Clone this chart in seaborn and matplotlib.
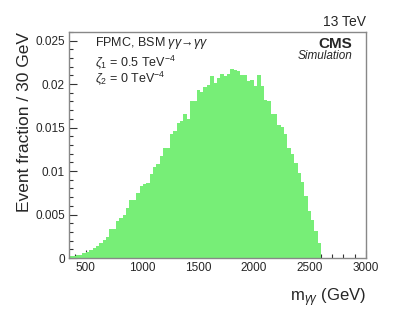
import matplotlib
matplotlib.use("Agg")
import matplotlib.pyplot as plt
import seaborn as sns
import numpy as np
import pandas as pd
from matplotlib.ticker import MultipleLocator

# 30 GeV bins from 350 to 2600 GeV
bin_low = 350
bin_width = 30
fractions = [
    0.00023, 0.00023, 0.0003, 0.0004, 0.00054, 0.00073, 0.00092, 0.00115, 0.0014, 0.0017,
    0.0021, 0.0024, 0.0033, 0.0033, 0.0043, 0.0046, 0.0049, 0.0057, 0.0067, 0.0067,
    0.0075, 0.0083, 0.0085, 0.0086, 0.0097, 0.0105, 0.0108, 0.0117, 0.0126, 0.0127,
    0.0143, 0.0146, 0.0155, 0.0158, 0.0165, 0.016, 0.018, 0.018, 0.0193, 0.0191,
    0.0197, 0.0199, 0.0209, 0.0201, 0.0207, 0.0212, 0.0209, 0.0212, 0.0217, 0.0216,
    0.0215, 0.021, 0.021, 0.0204, 0.0205, 0.0198, 0.021, 0.0198, 0.0182, 0.0181,
    0.0166, 0.0166, 0.0153, 0.0151, 0.0143, 0.0126, 0.0119, 0.0109, 0.0098, 0.0087,
    0.0071, 0.0054, 0.0044, 0.0031, 0.0017,
]
edges = bin_low + bin_width * np.arange(len(fractions) + 1)
df = pd.DataFrame({"mgg": edges[:-1] + bin_width / 2, "frac": fractions})

sns.set_style("white")
plt.rcParams["font.family"] = ["Liberation Sans", "DejaVu Sans"]
plt.rcParams["mathtext.fontset"] = "custom"
plt.rcParams["mathtext.rm"] = "Liberation Sans"
plt.rcParams["mathtext.it"] = "Liberation Sans:italic"

fig = plt.figure(figsize=(4.07, 3.12), dpi=100)
ax = fig.add_axes([0.1695, 0.173, 0.7295, 0.725])

sns.histplot(data=df, x="mgg", weights="frac", bins=edges.tolist(), element="step", fill=True,
             color="#77ee77", alpha=1, linewidth=0, ax=ax)

ax.set_xlim(350, 3000)
ax.set_ylim(0, 0.026)
ax.set_yticks([0, 0.005, 0.01, 0.015, 0.02, 0.025])
ax.set_yticklabels(["0", "0.005", "0.01", "0.015", "0.02", "0.025"])
ax.set_xticks([500, 1000, 1500, 2000, 2500, 3000])
ax.xaxis.set_minor_locator(MultipleLocator(100))
ax.yaxis.set_minor_locator(MultipleLocator(0.001))
ax.tick_params(which="both", direction="in", bottom=True, left=True, top=False, right=False,
               labelsize=8.5, color="#333333", pad=3)
ax.tick_params(which="major", length=6, width=0.8)
ax.tick_params(which="minor", length=3, width=0.8)
for s in ax.spines.values():
    s.set_color("#888888")
    s.set_linewidth(1)

ax.set_xlabel(r"m$_{\gamma\gamma}$ (GeV)", fontsize=12, loc="right", labelpad=9)
ax.set_ylabel("Event fraction / 30 GeV", fontsize=12.5, loc="top", labelpad=2)

ax.text(0.0875, 0.95, r"FPMC, BSM $\gamma\gamma\!\rightarrow\!\gamma\gamma$", transform=ax.transAxes,
        fontsize=9, va="center")
ax.text(0.0875, 0.866, r"$\zeta_1$ = 0.5 TeV$^{-4}$", transform=ax.transAxes, fontsize=9, va="center")
ax.text(0.0875, 0.795, r"$\zeta_2$ = 0 TeV$^{-4}$", transform=ax.transAxes, fontsize=9, va="center")
ax.text(0.955, 0.946, "CMS", transform=ax.transAxes, fontsize=11, fontweight="bold",
        ha="right", va="center")
ax.text(0.955, 0.895, "Simulation", transform=ax.transAxes, fontsize=8.5, style="italic",
        ha="right", va="center")
ax.text(1.0, 1.045, "13 TeV", transform=ax.transAxes, fontsize=10, ha="right", va="center")

fig.savefig("out.png", dpi=100)
